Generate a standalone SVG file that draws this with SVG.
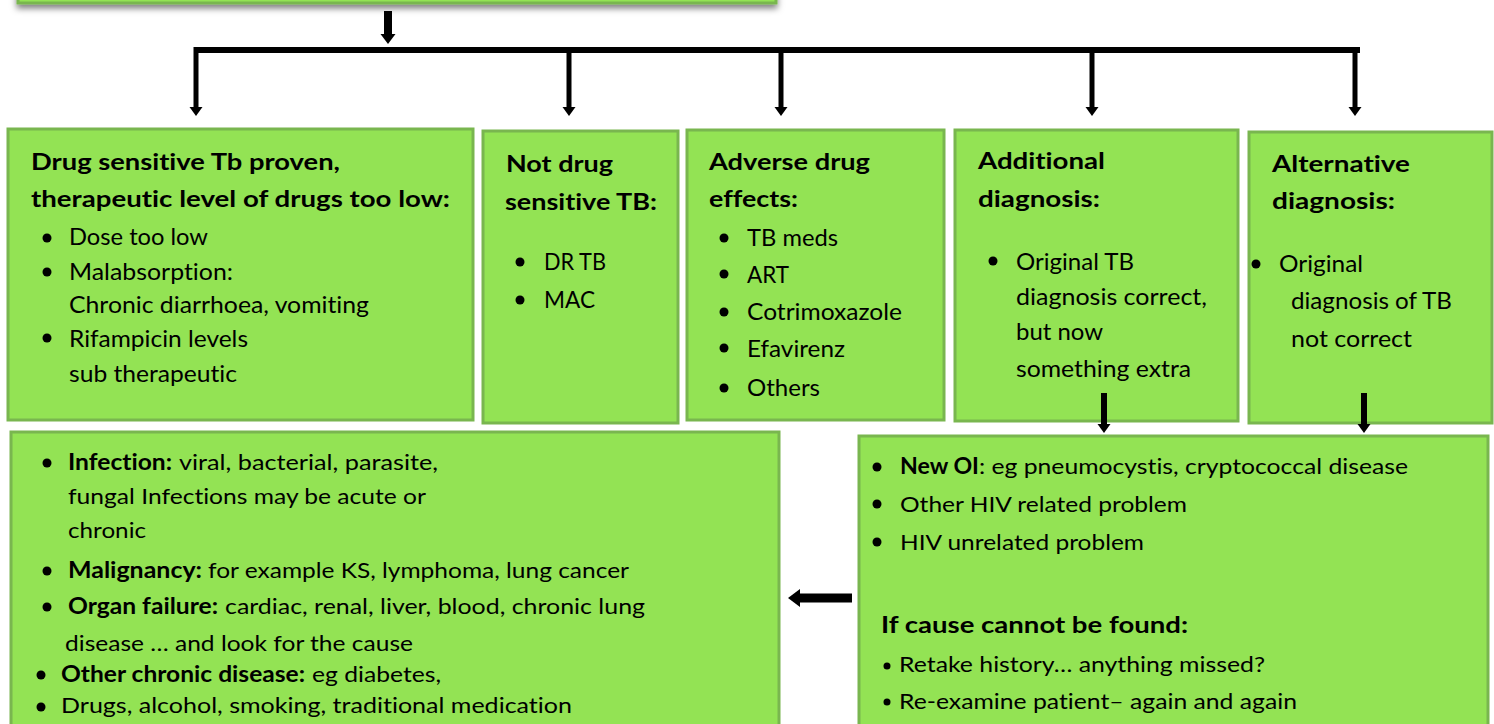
<svg xmlns="http://www.w3.org/2000/svg" width="1494" height="724" viewBox="0 0 1494 724">
<style>
.box{fill:#93E354;stroke:#79B64F;stroke-width:3}
.t{font-family:Lato,"Liberation Sans",sans-serif;fill:#000;font-variant-ligatures:none}
.h{font-size:23px;font-weight:bold}
.r{font-size:23px}
.s{font-size:22px}
.sb{font-size:22px;font-weight:bold}
.dot{fill:#000}
.shaft{stroke:#000;fill:none}
</style>
<defs>
<filter id="sh" x="-5%" y="-50%" width="110%" height="300%">
<feDropShadow dx="0" dy="4" stdDeviation="3" flood-color="#000" flood-opacity="0.5"/>
</filter>
<marker id="hSmall" markerUnits="userSpaceOnUse" markerWidth="10" markerHeight="14" refX="0" refY="6.5" orient="auto">
<path d="M0,0 L9,6.5 L0,13 z" fill="#000"/>
</marker>
<marker id="hMid" markerUnits="userSpaceOnUse" markerWidth="11" markerHeight="16" refX="0" refY="7.5" orient="auto">
<path d="M0,0 L10,7.5 L0,15 z" fill="#000"/>
</marker>
<marker id="hBig" markerUnits="userSpaceOnUse" markerWidth="14" markerHeight="20" refX="0" refY="9" orient="auto">
<path d="M0,0 L12,9 L0,18 z" fill="#000"/>
</marker>
</defs>

<g id="top-node">
<rect class="box" x="18" y="-12" width="758" height="15" filter="url(#sh)"/>
</g>

<g id="node-drug-sensitive">
<rect class="box" x="8" y="129" width="465" height="291"/>
<text class="t h" x="31" y="170" textLength="309" lengthAdjust="spacingAndGlyphs">Drug sensitive Tb proven,</text>
<text class="t h" x="31" y="207" textLength="419" lengthAdjust="spacingAndGlyphs">therapeutic level of drugs too low:</text>
<circle class="dot" cx="47" cy="238" r="4.5"/>
<text class="t r" x="69" y="245" textLength="139" lengthAdjust="spacingAndGlyphs">Dose too low</text>
<circle class="dot" cx="47" cy="272" r="4.5"/>
<text class="t r" x="69" y="280" textLength="164" lengthAdjust="spacingAndGlyphs">Malabsorption:</text>
<text class="t r" x="69" y="313" textLength="300" lengthAdjust="spacingAndGlyphs">Chronic diarrhoea, vomiting</text>
<circle class="dot" cx="47" cy="338" r="4.5"/>
<text class="t r" x="69" y="347" textLength="179" lengthAdjust="spacingAndGlyphs">Rifampicin levels</text>
<text class="t r" x="69" y="382" textLength="168" lengthAdjust="spacingAndGlyphs">sub therapeutic</text>
</g>

<g id="node-not-drug-sensitive">
<rect class="box" x="483" y="131" width="195" height="292"/>
<text class="t h" x="506" y="172" textLength="107" lengthAdjust="spacingAndGlyphs">Not drug</text>
<text class="t h" x="505" y="210" textLength="152" lengthAdjust="spacingAndGlyphs">sensitive TB:</text>
<circle class="dot" cx="520" cy="262" r="4.5"/>
<text class="t r" x="544" y="270" textLength="62" lengthAdjust="spacingAndGlyphs">DR TB</text>
<circle class="dot" cx="520" cy="300" r="4.5"/>
<text class="t r" x="544" y="308" textLength="51" lengthAdjust="spacingAndGlyphs">MAC</text>
</g>

<g id="node-adverse">
<rect class="box" x="687" y="130" width="257" height="290"/>
<text class="t h" x="709" y="170" textLength="161" lengthAdjust="spacingAndGlyphs">Adverse drug</text>
<text class="t h" x="709" y="207" textLength="89" lengthAdjust="spacingAndGlyphs">effects:</text>
<circle class="dot" cx="724" cy="238" r="4.5"/>
<text class="t r" x="747" y="246" textLength="91" lengthAdjust="spacingAndGlyphs">TB meds</text>
<circle class="dot" cx="724" cy="274" r="4.5"/>
<text class="t r" x="747" y="283" textLength="42" lengthAdjust="spacingAndGlyphs">ART</text>
<circle class="dot" cx="724" cy="312" r="4.5"/>
<text class="t r" x="747" y="320" textLength="155" lengthAdjust="spacingAndGlyphs">Cotrimoxazole</text>
<circle class="dot" cx="724" cy="348" r="4.5"/>
<text class="t r" x="747" y="357" textLength="98" lengthAdjust="spacingAndGlyphs">Efavirenz</text>
<circle class="dot" cx="724" cy="388" r="4.5"/>
<text class="t r" x="747" y="396" textLength="73" lengthAdjust="spacingAndGlyphs">Others</text>
</g>

<g id="node-additional">
<rect class="box" x="955" y="130" width="283" height="291"/>
<text class="t h" x="978" y="169" textLength="127" lengthAdjust="spacingAndGlyphs">Additional</text>
<text class="t h" x="978" y="207" textLength="122" lengthAdjust="spacingAndGlyphs">diagnosis:</text>
<circle class="dot" cx="993" cy="261" r="4.5"/>
<text class="t r" x="1016" y="270" textLength="118" lengthAdjust="spacingAndGlyphs">Original TB</text>
<text class="t r" x="1016" y="305" textLength="191" lengthAdjust="spacingAndGlyphs">diagnosis correct,</text>
<text class="t r" x="1016" y="340" textLength="87" lengthAdjust="spacingAndGlyphs">but now</text>
<text class="t r" x="1016" y="377" textLength="175" lengthAdjust="spacingAndGlyphs">something extra</text>
</g>

<g id="node-alternative">
<rect class="box" x="1249" y="132" width="243" height="291"/>
<text class="t h" x="1272" y="172" textLength="138" lengthAdjust="spacingAndGlyphs">Alternative</text>
<text class="t h" x="1272" y="209" textLength="123" lengthAdjust="spacingAndGlyphs">diagnosis:</text>
<circle class="dot" cx="1256" cy="264" r="4.5"/>
<text class="t r" x="1279" y="272" textLength="84" lengthAdjust="spacingAndGlyphs">Original</text>
<text class="t r" x="1291" y="309" textLength="161" lengthAdjust="spacingAndGlyphs">diagnosis of TB</text>
<text class="t r" x="1291" y="347" textLength="121" lengthAdjust="spacingAndGlyphs">not correct</text>
</g>

<g id="node-other-causes">
<rect class="box" x="11" y="432" width="768" height="300"/>
<circle class="dot" cx="47" cy="463" r="4.5"/>
<text class="t sb" x="68" y="470" textLength="104" lengthAdjust="spacingAndGlyphs">Infection:</text>
<text class="t s" x="179" y="470" textLength="259" lengthAdjust="spacingAndGlyphs">viral, bacterial, parasite,</text>
<text class="t s" x="68" y="504" textLength="358" lengthAdjust="spacingAndGlyphs">fungal Infections may be acute or</text>
<text class="t s" x="68" y="538" textLength="78" lengthAdjust="spacingAndGlyphs">chronic</text>
<circle class="dot" cx="47" cy="571" r="4.5"/>
<text class="t sb" x="68" y="578" textLength="134" lengthAdjust="spacingAndGlyphs">Malignancy:</text>
<text class="t s" x="208" y="578" textLength="421" lengthAdjust="spacingAndGlyphs">for example KS, lymphoma, lung cancer</text>
<circle class="dot" cx="47" cy="607" r="4.5"/>
<text class="t sb" x="68" y="614" textLength="150" lengthAdjust="spacingAndGlyphs">Organ failure:</text>
<text class="t s" x="225" y="614" textLength="420" lengthAdjust="spacingAndGlyphs">cardiac, renal, liver, blood, chronic lung</text>
<text class="t s" x="65" y="651" textLength="348" lengthAdjust="spacingAndGlyphs">disease … and look for the cause</text>
<circle class="dot" cx="41" cy="675" r="4.5"/>
<text class="t sb" x="61" y="682" textLength="244" lengthAdjust="spacingAndGlyphs">Other chronic disease:</text>
<text class="t s" x="312" y="682" textLength="129" lengthAdjust="spacingAndGlyphs">eg diabetes,</text>
<circle class="dot" cx="41" cy="707" r="4.5"/>
<text class="t s" x="61" y="713" textLength="511" lengthAdjust="spacingAndGlyphs">Drugs, alcohol, smoking, traditional medication</text>
</g>

<g id="node-new-problems">
<rect class="box" x="859" y="436" width="629" height="300"/>
<circle class="dot" cx="877" cy="467" r="4.5"/>
<text class="t sb" x="900" y="474" textLength="79" lengthAdjust="spacingAndGlyphs">New OI</text>
<text class="t s" x="979" y="474" textLength="429" lengthAdjust="spacingAndGlyphs">: eg pneumocystis, cryptococcal disease</text>
<circle class="dot" cx="877" cy="504" r="4.5"/>
<text class="t s" x="900" y="512" textLength="287" lengthAdjust="spacingAndGlyphs">Other HIV related problem</text>
<circle class="dot" cx="877" cy="542" r="4.5"/>
<text class="t s" x="900" y="550" textLength="244" lengthAdjust="spacingAndGlyphs">HIV unrelated problem</text>
<text class="t h" x="881" y="633" textLength="307" lengthAdjust="spacingAndGlyphs">If cause cannot be found:</text>
<circle class="dot" cx="887" cy="666" r="3.5"/>
<text class="t s" x="899" y="672" textLength="366" lengthAdjust="spacingAndGlyphs">Retake history… anything missed?</text>
<circle class="dot" cx="887" cy="702" r="3.5"/>
<text class="t s" x="899" y="709" textLength="398" lengthAdjust="spacingAndGlyphs">Re-examine patient– again and again</text>
</g>

<g id="connectors">
<line class="shaft" x1="388" y1="11" x2="388" y2="34" stroke-width="8" marker-end="url(#hMid)"/>
<line class="shaft" x1="195" y1="50" x2="1360" y2="50" stroke-width="6"/>
<line class="shaft" x1="196" y1="47" x2="196" y2="107" stroke-width="5" marker-end="url(#hSmall)"/>
<line class="shaft" x1="569" y1="50" x2="569" y2="107" stroke-width="5" marker-end="url(#hSmall)"/>
<line class="shaft" x1="781" y1="50" x2="781" y2="107" stroke-width="5" marker-end="url(#hSmall)"/>
<line class="shaft" x1="1092" y1="50" x2="1092" y2="107" stroke-width="5" marker-end="url(#hSmall)"/>
<line class="shaft" x1="1355" y1="53" x2="1355" y2="107" stroke-width="5" marker-end="url(#hSmall)"/>
<line class="shaft" x1="1104" y1="393" x2="1104" y2="424" stroke-width="6" marker-end="url(#hSmall)"/>
<line class="shaft" x1="1364" y1="393" x2="1364" y2="424" stroke-width="6" marker-end="url(#hSmall)"/>
<line class="shaft" x1="852" y1="598" x2="800" y2="598" stroke-width="9" marker-end="url(#hBig)"/>
</g>
</svg>
